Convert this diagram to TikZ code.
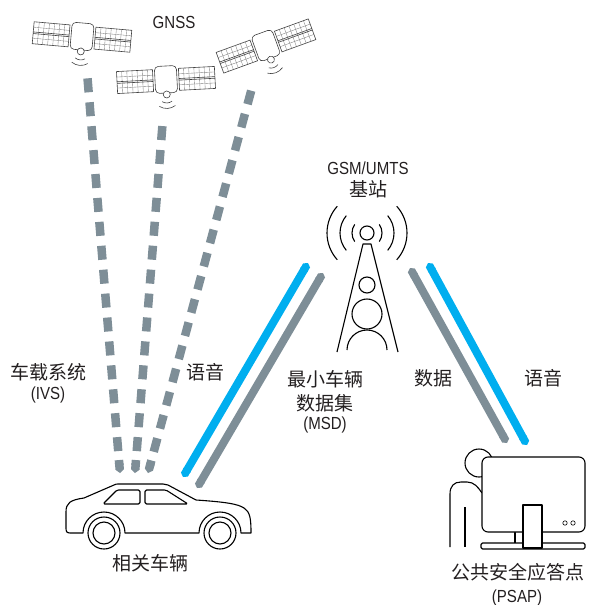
\documentclass[tikz,border=0pt]{standalone}
\usepackage{fontspec}
\setmainfont[FakeStretch=0.86]{Liberation Sans}
\newfontfamily\cjk{Noto Sans CJK SC}
\usetikzlibrary{arrows.meta,calc}
\definecolor{LinkGray}{HTML}{7E8E97}
\definecolor{VoiceBlue}{HTML}{00AEEF}
\definecolor{InkText}{HTML}{231F20}

\begin{document}
\begin{tikzpicture}[
  x=1pt, y=-1pt,
  every node/.style={text=InkText, inner sep=0pt},
  cnlabel/.style={font=\cjk\fontsize{19}{22}\selectfont},
  enlabel/.style={font=\fontsize{17.5}{20}\selectfont},
  outline/.style={draw=black, line width=1.1pt, line join=round},
  satline/.style={draw=black!75, line width=0.6pt},
  satgrid/.style={draw=black!50, line width=0.35pt},
  gnsslink/.style={draw=LinkGray, line width=8.5pt, dash pattern=on 14pt off 10pt},
  gnsstip/.style={draw=LinkGray, line width=8.5pt, -{Triangle Cap[cap angle=100]}},
  datalink/.style={draw=LinkGray, line width=8pt, {Triangle Cap[cap angle=110]}-{Triangle Cap[cap angle=110]}},
  voicelink/.style={draw=VoiceBlue, line width=8pt, {Triangle Cap[cap angle=110]}-{Triangle Cap[cap angle=110]}},
]
\useasboundingbox (0,0) rectangle (592,605);

% ============ satellites ============
\foreach \sx/\sy/\sr in {82/37/-5, 166/80/3, 266/46/20}{
  \begin{scope}[shift={(\sx,\sy)}, rotate=\sr]
    \foreach \px in {-49,13}{
      \draw[satline, fill=white] (\px,-11) rectangle ++(36,22);
      \foreach \k in {1,...,6}
        \draw[satgrid] ({\px+\k*36/7},-11) -- ++(0,22);
      \draw[satgrid] (\px,-5.5) -- ++(36,0);
      \draw[satgrid] (\px,5.5) -- ++(36,0);
      \draw[satline] (\px,-0.8) -- ++(36,0);
      \draw[satline] (\px,0.8) -- ++(36,0);
    }
    \draw[satline, fill=white, rounded corners=4] (-11,-14) rectangle (11,13);
    \draw[satline, fill=white] (0,14.5) circle (3.5);
    \draw[satline] ([shift={(55:8.5)}]0,14.5) arc[start angle=55, end angle=125, radius=8.5];
    \draw[satline] ([shift={(55:14)}]0,14.5) arc[start angle=55, end angle=125, radius=14];
  \end{scope}
}
\node[enlabel] (gnss) at (174,22) {GNSS};

% GNSS downlinks
\coordinate (sat1) at (87,72);
\coordinate (sat2) at (163,118);
\coordinate (sat3) at (253,84);
\coordinate (rx1) at (120,473);
\coordinate (rx2) at (135,473);
\coordinate (rx3) at (148,473);
\foreach \i in {1,2,3}{
  \draw[gnsslink] ($(rx\i)!22pt!(sat\i)$) -- (sat\i);
  \draw[gnsstip] ($(rx\i)!13pt!(sat\i)$) -- (rx\i);
}

% ============ base station ============
\node[enlabel] (bts-name) at (368,168) {GSM/UMTS};
\node[cnlabel] (bts-cn) at (368,189) {基站};
\draw[outline] (367,233) circle (7);
\foreach \r/\a in {15/35, 27/40, 40/42}{
  \draw[outline] ([shift={(-\a:\r)}]367,233) arc[start angle=-\a, end angle=\a, radius=\r];
  \draw[outline] ([shift={(180-\a:\r)}]367,233) arc[start angle=180-\a, end angle=180+\a, radius=\r];
}
\draw[outline] (337,352) -- (363,244) -- (371,244) -- (398,352);
\draw[outline] (367,285) circle (8);
\draw[outline] (367,314) circle (15);
\draw[outline] (347,350) arc[start angle=180, end angle=360, radius=20];

% ============ vehicle ============
\draw[outline] (70,533) .. controls (66,533) and (66,531) .. (66,527) -- (66,512)
  .. controls (66,503) and (70,500) .. (84,498) -- (114,485)
  .. controls (116,484) .. (120,484) -- (163,484) .. controls (166,484) .. (168,485)
  -- (196,500) .. controls (226,502) and (238,504) .. (244,508)
  .. controls (250,512) and (251,518) .. (251,533)
  -- (241,533) arc[start angle=0, end angle=-180, radius=21]
  -- (125,533) arc[start angle=0, end angle=-180, radius=21] -- cycle;
\draw[outline, rounded corners=1.5] (103,504) -- (117,490) -- (140,490) -- (140,504) -- cycle;
\draw[outline, rounded corners=1.5] (145,490) -- (166,490) -- (188,504) -- (145,504) -- cycle;
\foreach \wx in {104,220}{
  \draw[outline, fill=white] (\wx,533) circle (16);
  \draw[outline] (\wx,533) circle (11);
}
\node[cnlabel] (car-name) at (150,563) {相关车辆};

% ============ PSAP ============
\draw[outline, fill=white] (479,463) circle (14);
\draw[outline] (450,547) -- (450,494) .. controls (450,486) and (454,482) .. (461,482)
  -- (467,482) .. controls (474,482) and (478,487) .. (482,493);
\draw[outline] (465,507) -- (465,547);
\draw[outline] (515,532) -- (515,544);
\draw[outline, fill=white, rounded corners=6] (482,457) rectangle (585,532);
\draw[outline, fill=white, rounded corners=1.5] (481,543) rectangle (585,549);
\draw[outline, fill=white] (523,505) rectangle (542,548);
\draw[black, line width=0.6pt] (565,523) circle (2.2) (573,523) circle (2.2);
\node[cnlabel] (psap-name) at (518,572) {公共安全应答点};
\node[enlabel] (psap-abbr) at (517,598) {(PSAP)};

% ============ cellular links ============
\coordinate (car-voice) at (183,477);
\coordinate (bts-voice-l) at (308,263);
\coordinate (car-data) at (197,488);
\coordinate (bts-data-l) at (323,273);
\coordinate (bts-data-r) at (410,268);
\coordinate (psap-data) at (507,443);
\coordinate (bts-voice-r) at (428,263);
\coordinate (psap-voice) at (527,445);
\draw[voicelink] (car-voice) -- (bts-voice-l);
\draw[datalink] (car-data) -- (bts-data-l);
\draw[datalink] (bts-data-r) -- (psap-data);
\draw[voicelink] (bts-voice-r) -- (psap-voice);

% link labels
\node[cnlabel] (ivs) at (48,372) {车载系统};
\node[enlabel] (ivs-abbr) at (48,395) {(IVS)};
\node[cnlabel] (voice-l) at (205,372) {语音};
\node[cnlabel] (msd1) at (325,379) {最小车辆};
\node[cnlabel] (msd2) at (325,403) {数据集};
\node[enlabel] (msd3) at (325,425) {(MSD)};
\node[cnlabel] (data-r) at (433,378) {数据};
\node[cnlabel] (voice-r) at (543,378) {语音};

\end{tikzpicture}
\end{document}
